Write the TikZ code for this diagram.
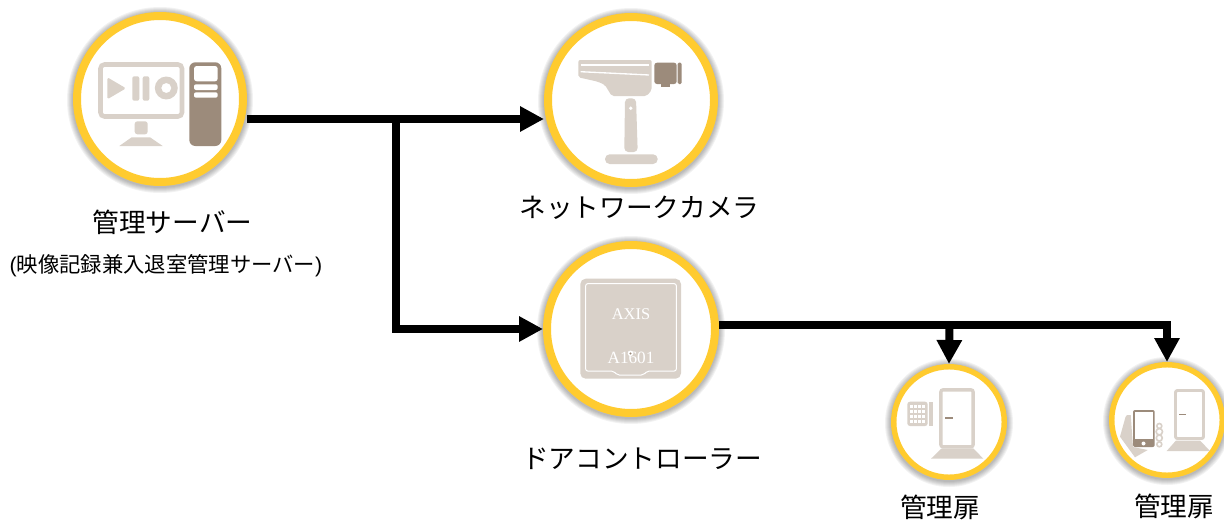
\documentclass[tikz,border=0pt]{standalone}
\usepackage{fontspec}
\setmainfont{Liberation Serif}
\newfontfamily\cjk{Noto Sans CJK JP}
\newfontfamily\lsans{Liberation Sans}
\usetikzlibrary{arrows.meta}
\definecolor{taupe}{HTML}{D9D1C9}
\definecolor{darkt}{HTML}{9C8B7B}
\definecolor{ringy}{HTML}{FFCB2F}
\newcommand\softshadow[3]{\foreach \k in {1,...,6}{\fill[black,opacity=.05] (#1,#2+1) circle[radius={(#3+\k)*.75pt}];}}
\tikzset{
  bigring/.style={circle,draw=ringy,fill=white,line width=6pt,minimum size=124.5pt,inner sep=0pt},
  smallring/.style={circle,draw=ringy,fill=white,line width=4.1pt,minimum size=82.9pt,inner sep=0pt},
  conn/.style={line width=6pt,draw=black},
  arrowed/.style={conn,-{Triangle[length=18pt,width=18pt]}},
  lbl/.style={inner sep=0pt,font=\cjk\fontsize{20}{24}\selectfont},
  sublbl/.style={inner sep=0pt,font=\cjk\fontsize{16}{20}\selectfont},
  lt/.style={fill=taupe},
  dk/.style={fill=darkt},
  wt/.style={fill=white}
}
\begin{document}
\begin{tikzpicture}[x=0.75pt,y=-0.75pt]
\useasboundingbox (0,0) rectangle (1224,521);
% shadows
\softshadow{160}{99}{87}
\softshadow{631}{100}{87}
\softshadow{631}{329}{88}
\softshadow{949}{422}{58}
\softshadow{1167}{420}{58}
% rings
\node[bigring] (srv) at (160,99) {};
\node[bigring] (cam) at (631,100) {};
\node[bigring,minimum size=126pt] (ctl) at (631,329) {};
\node[smallring] (da) at (949,422) {};
\node[smallring] (db) at (1167,420) {};
% connectors
\coordinate (ja) at (396,119);
\coordinate (jb) at (949.5,325);
\coordinate (jc) at (1167,325);
\draw[arrowed] (srv.east |- ja) -- (cam.west |- ja);
\draw[arrowed] (ja) |- (ctl.west);
\draw[conn] (ctl.east |- jb) -- (jb);
\draw[arrowed] (jb) -- (da.north);
\draw[arrowed] (jb) -- (jc) -- (db.north);
% server icon
\draw[taupe,line width=3.4pt,rounded corners=3pt,fill=white] (100.5,64.5) rectangle (182,116.5);
\fill[lt,rounded corners=1.2pt] (107.3,77.3) -- (126,88.3) -- (107.3,99.3) -- cycle;
\fill[lt,rounded corners=1.5pt] (132.3,76.3) rectangle (139.3,100.7);
\fill[lt,rounded corners=1.5pt] (142.7,76.3) rectangle (149.3,100.7);
\fill[lt,even odd rule] (166.3,88) circle[radius=8.6pt] circle[radius=3.8pt];
\fill[lt,rounded corners=2pt] (134.7,121.3) rectangle (147.7,134.3);
\fill[lt] (119.3,146) -- (131.7,137.3) -- (150,137.3) -- (162.7,146) -- cycle;
\fill[dk,rounded corners=4.5pt] (189.3,62.3) rectangle (221.3,146);
\fill[wt,rounded corners=2pt] (194,66) rectangle (217.7,81.3);
\fill[wt,rounded corners=1.5pt] (194,84.3) rectangle (217.7,90);
\fill[wt,rounded corners=1.5pt] (194,92.3) rectangle (217.7,97.7);
% camera icon
\fill[lt,rounded corners=1.5pt] (578.3,60) -- (651.7,60) -- (651.7,90) -- (646.7,96) -- (611.7,96) -- (605,85) -- (598,81.7) -- (578.3,77.3) -- cycle;
\draw[white,line width=1pt] (580.7,65) -- (649,65);
\draw[white,line width=1pt] (580.7,71.7) -- (649,75);
\fill[dk,rounded corners=2pt] (654.3,62.7) rectangle (676.7,84);
\fill[dk] (661,82) rectangle (670,87.3);
\fill[dk,rounded corners=1pt] (677.7,62.7) rectangle (681.7,84);
\fill[lt,rounded corners=3pt] (625,98.3) -- (636,98.3) -- (637.7,152) -- (624.3,152) -- cycle;
\fill[wt] (630.7,108.3) circle[radius=1.4pt];
\fill[lt,rounded corners=3.5pt] (605,154.3) rectangle (657.7,164);
% controller icon
\fill[lt,rounded corners=4pt] (580.3,278.7) rectangle (681,378.7);
\draw[white,line width=.75pt,rounded corners=1.5pt] (585.7,283.7) -- (676.3,283.7) -- (676.3,371) -- (647.3,371) -- (643.3,375) -- (617.3,375) -- (613.3,371) -- (585.7,371) -- cycle;
\node[inner sep=0pt,text=white,font=\fontsize{12.3}{14}\selectfont] (axis) at (631,313.8) {AXIS};
\node[inner sep=0pt,text=white,font=\fontsize{12.9}{15}\selectfont] (model) at (631,358) {A1601};
\fill[white] (630.5,353.3) circle[radius=2.1pt];
\fill[darkt] (630.5,353.5) circle[radius=.8pt];
% door 1
\draw[taupe,line width=2.5pt,rounded corners=1.5pt] (940.9,389.9) rectangle (973.1,446.7);
\fill[dk] (945.3,416.8) rectangle (953.3,418.6);
\fill[lt] (931,458.7) -- (941.7,448.3) -- (973.3,448.3) -- (983.3,458.7) -- cycle;
\fill[lt,rounded corners=2pt] (907.3,401.7) rectangle (927.7,426);
\fill[lt] (929.3,401.7) rectangle (932.7,426);
\foreach \i in {0,1,2,3}{\foreach \j in {0,1,2,3}{
  \fill[wt] ({910+\i*4.1},{405+\j*4.9}) rectangle ++(3,2.8);
}}
% door 2
\draw[taupe,line width=2.2pt,rounded corners=1.5pt] (1175.5,390.5) rectangle (1203.5,438.5);
\fill[dk] (1179,413.6) rectangle (1185.7,415);
\fill[lt] (1166.7,451) -- (1176,440.5) -- (1200,440.5) -- (1210,451) -- cycle;
\fill[lt] (1120,436.7) -- (1125.5,417) -- (1127,415) -- (1130.7,415) -- (1133,447) -- (1147.7,450) -- (1135,457.3) -- cycle;
\fill[dk,rounded corners=1.5pt] (1133,410) rectangle (1154.7,447);
\fill[wt] (1135,412.3) rectangle (1152.7,439.3);
\fill[wt] (1143.5,443.5) circle[radius=1.5pt];
\foreach \y/\r in {426/2.5,431.7/3.2,438/3,444.3/2.5}{
  \filldraw[fill=white,draw=taupe,line width=1.2pt] (1159.3,\y) circle[radius=\r*.75pt];
}
% labels
\node[lbl] (tsrv) at (172.5,222.5) {管理サーバー};
\node[sublbl] (tsub) at (166,266) {{\lsans(}映像記録兼入退室管理サーバー{\lsans)}};
\node[lbl] (tcam) at (639.5,207.5) {ネットワークカメラ};
\node[lbl] (tctl) at (642,458.5) {ドアコントローラー};
\node[lbl] (tda) at (940,507.5) {管理扉};
\node[lbl] (tdb) at (1174,506.5) {管理扉};
\end{tikzpicture}
\end{document}
